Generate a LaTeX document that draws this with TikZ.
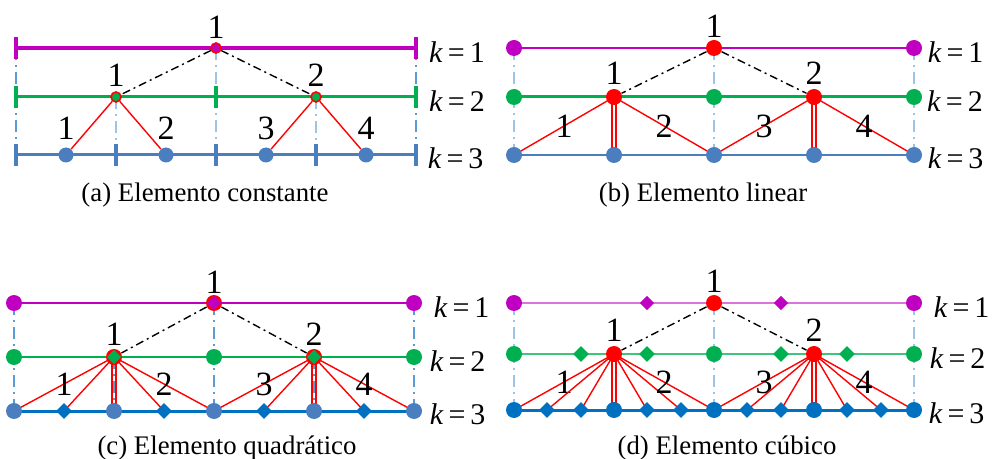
\documentclass[tikz,border=0pt]{standalone}
\usepackage{fontspec}
\setmainfont{Liberation Serif}
\usetikzlibrary{positioning,shapes.geometric,backgrounds}

\definecolor{magk}{RGB}{192,0,192}
\definecolor{grnk}{RGB}{0,176,80}
\definecolor{bluk}{RGB}{74,126,190}
\definecolor{blud}{RGB}{0,112,192}
\definecolor{guidec}{RGB}{91,155,213}
\definecolor{guidel}{RGB}{157,195,230}

\tikzset{
  dot/.style={circle, inner sep=0pt, minimum size=8pt},
  mdot/.style={dot, fill=magk},
  gdot/.style={dot, fill=grnk},
  bdot/.style={dot, fill=bluk},
  rdot/.style={dot, fill=red},
  dia/.style={diamond, inner sep=0pt, minimum size=8pt},
  ring/.style={circle, inner sep=0pt, minimum size=5pt, draw=red, line width=0.8pt},
  bar/.style={rectangle, inner sep=0pt, minimum width=2pt, minimum height=11pt},
  num/.style={font=\fontsize{17}{17}\selectfont, inner sep=0pt, text=black},
  klab/.style={font=\fontsize{15}{16}\selectfont, inner sep=0pt, yshift=-1.8pt},
  captext/.style={font=\fontsize{13.4}{15}\selectfont, inner sep=0pt},
  guide/.style={guidec, line width=0.8pt, dash pattern=on 6pt off 2.5pt on 1pt off 2.5pt},
  guidelt/.style={guidel, line width=0.6pt, dash pattern=on 6pt off 2.5pt on 1pt off 2.5pt},
  chain/.style={black, line width=0.7pt, dash pattern=on 4pt off 2pt on 1pt off 2pt},
  tie/.style={red, line width=0.7pt},
  dbl/.style={red, line width=0.9pt, double=white, double distance=0.8pt}
}

\begin{document}
\begin{tikzpicture}[x=0.5pt, y=-0.5pt]
  \useasboundingbox (0,0) rectangle (994,459);

  % (a) Elemento constante
  \node (a1L) [bar, fill=magk] at (16,48) {};
  \node (a1R) [bar, fill=magk] at (416,48) {};
  \node (a11) [ring, fill=magk] at (216,48) {};
  \node (a2L) [bar, fill=grnk] at (16,97) {};
  \node (a2M) [bar, fill=grnk] at (216,97) {};
  \node (a2R) [bar, fill=grnk] at (416,97) {};
  \node (a21) [ring, fill=grnk] at (116,97) {};
  \node (a22) [ring, fill=grnk] at (316,97) {};
  \foreach \i/\x in {0/16,1/116,2/216,3/316,4/416}
    \node (a3b\i) [bar, fill=bluk] at (\x,155) {};
  \foreach \i/\x in {1/66,2/166,3/266,4/366} {
    \node (a3\i) [bdot, minimum size=7.5pt] at (\x,155) {};
    \node (a3n\i) [num, above=3.5pt of a3\i] {\i};
  }
  \node (a11n) [num, above=1.8pt of a11] {1};
  \node (a21n) [num, above=2.2pt of a21] {1};
  \node (a22n) [num, above=2.2pt of a22] {2};
  \node (ak1) [klab, right=5.2pt of a1R] {\textit{k}\,=\,1};
  \node (ak2) [klab, right=5.2pt of a2R] {\textit{k}\,=\,2};
  \node (ak3) [klab, right=4.5pt of a3b4] {\textit{k}\,=\,3};
  \node (acap) [captext] at (205,195) {(a) Elemento constante};

  \begin{scope}[on background layer]
    \draw[guide] (a1L.center) -- (a2L.center) -- (a3b0.center);
    \draw[guide] (a1R.center) -- (a2R.center) -- (a3b4.center);
    \draw[guidelt] (a11.center) -- (a2M.center) -- (a3b2.center);
    \draw[guidelt] (a21.center) -- (a3b1.center);
    \draw[guidelt] (a22.center) -- (a3b3.center);
    \draw[magk, line width=1.8pt] (a1L.center) -- (a1R.center);
    \draw[grnk, line width=1.5pt] (a2L.center) -- (a2R.center);
    \draw[bluk, line width=1.5pt] (a3b0.center) -- (a3b4.center);
  \end{scope}
  \draw[tie] (a21) -- (a31);
  \draw[tie] (a21) -- (a32);
  \draw[tie] (a22) -- (a33);
  \draw[tie] (a22) -- (a34);
  \draw[chain] (a11) -- (a21);
  \draw[chain] (a11) -- (a22);

  % (b) Elemento linear
  \node (b1L) [mdot] at (514,48) {};
  \node (b11) [rdot] at (714,48) {};
  \node (b1R) [mdot] at (914,48) {};
  \node (b2L) [gdot] at (514,97) {};
  \node (b21) [rdot] at (614,97) {};
  \node (b2M) [gdot] at (714,97) {};
  \node (b22) [rdot] at (814,97) {};
  \node (b2R) [gdot] at (914,97) {};
  \foreach \i/\x in {0/514,1/614,2/714,3/814,4/914}
    \node (b3\i) [bdot] at (\x,155) {};
  \node (b11n) [num, above=1pt of b11] {1};
  \node (b21n) [num, above=2pt of b21] {1};
  \node (b22n) [num, above=2pt of b22] {2};
  \node (bk1) [klab, right=2.5pt of b1R] {\textit{k}\,=\,1};
  \node (bk2) [klab, right=2.2pt of b2R] {\textit{k}\,=\,2};
  \node (bk3) [klab, right=2.5pt of b34] {\textit{k}\,=\,3};
  \node (bcap) [captext] at (703,195) {(b) Elemento linear};

  \begin{scope}[on background layer]
    \draw[guidelt] (b1L.center) -- (b2L.center) -- (b30.center);
    \draw[guidelt] (b1R.center) -- (b2R.center) -- (b34.center);
    \draw[guidelt] (b11.center) -- (b2M.center) -- (b32.center);
    \draw[magk, line width=1pt] (b1L.center) -- (b1R.center);
    \draw[grnk, line width=1.5pt] (b2L.center) -- (b2R.center);
    \draw[bluk, line width=1.25pt] (b30.center) -- (b34.center);
    \draw[tie] (b21.center) -- node[num] (bn1) {1} (b30.center);
    \draw[tie] (b21.center) -- node[num] (bn2) {2} (b32.center);
    \draw[tie] (b22.center) -- node[num] (bn3) {3} (b32.center);
    \draw[tie] (b22.center) -- node[num] (bn4) {4} (b34.center);
    \draw[dbl] (b21.center) -- (b31.center);
    \draw[dbl] (b22.center) -- (b33.center);
  \end{scope}
  \draw[chain] (b11) -- (b21);
  \draw[chain] (b11) -- (b22);

  % (c) Elemento quadratico
  \node (c1L) [mdot] at (14,303) {};
  \node (c11) [rdot] at (214,303) {};
  \node (c11d) [dia, fill=magk, minimum size=7.2pt] at (214,303) {};
  \node (c1R) [mdot] at (414,303) {};
  \node (c2L) [gdot] at (14,357) {};
  \node (c21) [rdot] at (114,357) {};
  \node (c21d) [dia, fill=grnk, minimum size=7.2pt] at (114,357) {};
  \node (c2M) [gdot] at (214,357) {};
  \node (c22) [rdot] at (314,357) {};
  \node (c22d) [dia, fill=grnk, minimum size=7.2pt] at (314,357) {};
  \node (c2R) [gdot] at (414,357) {};
  \foreach \i/\x in {0/14,1/114,2/214,3/314,4/414}
    \node (c3\i) [bdot] at (\x,411) {};
  \foreach \i/\x in {1/64,2/164,3/264,4/364}
    \node (c3d\i) [dia, fill=blud] at (\x,411) {};
  \node (c11n) [num, above=0.5pt of c11] {1};
  \node (c21n) [num, above=1.5pt of c21] {1};
  \node (c22n) [num, above=1.5pt of c22] {2};
  \node (ck1) [klab, right=5.5pt of c1R] {\textit{k}\,=\,1};
  \node (ck2) [klab, right=3.5pt of c2R] {\textit{k}\,=\,2};
  \node (ck3) [klab, right=3.5pt of c34] {\textit{k}\,=\,3};
  \node (ccap) [captext] at (227,448) {(c) Elemento quadrático};

  \begin{scope}[on background layer]
    \draw[guide] (c1L.center) -- (c2L.center) -- (c30.center);
    \draw[guide] (c1R.center) -- (c2R.center) -- (c34.center);
    \draw[guide] (c11.center) -- (c2M.center) -- (c32.center);
    \draw[magk, line width=0.8pt] (c1L.center) -- (c1R.center);
    \draw[grnk, line width=1pt] (c2L.center) -- (c2R.center);
    \draw[blud, line width=1.5pt] (c30.center) -- (c34.center);
    \draw[tie] (c21.center) -- node[num] (cn1) {1} (c30.center);
    \draw[tie] (c21.center) -- (c3d1.center);
    \draw[tie] (c21.center) -- (c3d2.center);
    \draw[tie] (c21.center) -- node[num] (cn2) {2} (c32.center);
    \draw[tie] (c22.center) -- node[num] (cn3) {3} (c32.center);
    \draw[tie] (c22.center) -- (c3d3.center);
    \draw[tie] (c22.center) -- (c3d4.center);
    \draw[tie] (c22.center) -- node[num] (cn4) {4} (c34.center);
    \draw[dbl] (c21.center) -- (c31.center);
    \draw[dbl] (c22.center) -- (c33.center);
    \draw[guide] (c21.center) -- (c31.center);
    \draw[guide] (c22.center) -- (c33.center);
  \end{scope}
  \draw[chain] (c11) -- (c21);
  \draw[chain] (c11) -- (c22);

  % (d) Elemento cubico
  \node (d1L) [mdot] at (514,303) {};
  \node (d11) [rdot] at (714,303) {};
  \node (d1R) [mdot] at (914,303) {};
  \foreach \i/\x in {1/647,2/781}
    \node (d1d\i) [dia, fill=magk, minimum size=7.4pt] at (\x,303) {};
  \node (d2L) [gdot] at (514,354) {};
  \node (d21) [rdot] at (614,354) {};
  \node (d2M) [gdot] at (714,354) {};
  \node (d22) [rdot] at (814,354) {};
  \node (d2R) [gdot] at (914,354) {};
  \foreach \i/\x in {1/581,2/647,3/781,4/847}
    \node (d2d\i) [dia, fill=grnk] at (\x,354) {};
  \foreach \i/\x in {0/514,1/614,2/714,3/814,4/914}
    \node (d3\i) [dot, fill=blud] at (\x,410) {};
  \foreach \i/\x in {1/547,2/581,3/647,4/681,5/747,6/781,7/847,8/881}
    \node (d3d\i) [dia, fill=blud] at (\x,410) {};
  \node (d11n) [num, above=1pt of d11] {1};
  \node (d21n) [num, above=2pt of d21] {1};
  \node (d22n) [num, above=2pt of d22] {2};
  \node (dk1) [klab, right=5.5pt of d1R] {\textit{k}\,=\,1};
  \node (dk2) [klab, right=3.5pt of d2R] {\textit{k}\,=\,2};
  \node (dk3) [klab, right=3pt of d34] {\textit{k}\,=\,3};
  \node (dcap) [captext] at (727,448) {(d) Elemento cúbico};

  \begin{scope}[on background layer]
    \draw[guidelt] (d1L.center) -- (d2L.center) -- (d30.center);
    \draw[guidelt] (d1R.center) -- (d2R.center) -- (d34.center);
    \draw[guidelt] (d11.center) -- (d2M.center) -- (d32.center);
    \draw[magk!55, line width=0.6pt] (d1L.center) -- (d1R.center);
    \draw[grnk!75, line width=0.8pt] (d2L.center) -- (d2R.center);
    \draw[blud, line width=1.5pt] (d30.center) -- (d34.center);
    \draw[tie] (d21.center) -- node[num] (dn1) {1} (d30.center);
    \foreach \j in {1,...,4}
      \draw[tie] (d21.center) -- (d3d\j.center);
    \draw[tie] (d21.center) -- node[num] (dn2) {2} (d32.center);
    \draw[tie] (d22.center) -- node[num] (dn3) {3} (d32.center);
    \foreach \j in {5,...,8}
      \draw[tie] (d22.center) -- (d3d\j.center);
    \draw[tie] (d22.center) -- node[num] (dn4) {4} (d34.center);
    \draw[dbl] (d21.center) -- (d31.center);
    \draw[dbl] (d22.center) -- (d33.center);
  \end{scope}
  \draw[chain] (d11) -- (d21);
  \draw[chain] (d11) -- (d22);
\end{tikzpicture}
\end{document}
